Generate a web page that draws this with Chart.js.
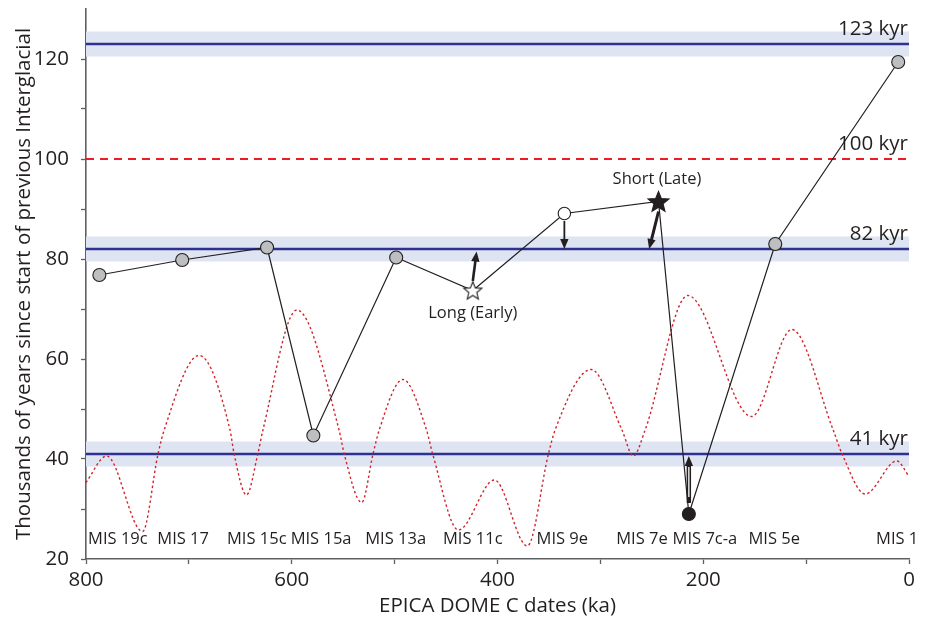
<!DOCTYPE html>
<html>
<head>
<meta charset="utf-8">
<script src="https://cdn.jsdelivr.net/npm/chart.js@4.4.1/dist/chart.umd.min.js"></script>
<style>
  html, body { margin: 0; padding: 0; background: #ffffff; }
  #wrap { width: 929px; height: 620px; position: relative; }
</style>
</head>
<body>
<div id="wrap"><canvas id="c" width="929" height="620"></canvas></div>
<script>
// ---------------- data ----------------
const mainAges   = [787, 706.5, 624, 579, 498.5, 424, 335, 243.5, 214, 130, 10.5];
const mainValues = [76.8, 79.8, 82.3, 44.7, 80.3, 73.7, 89.1, 91.5, 29.0, 83.0, 119.4];
const mainMarkers = ['grey','grey','grey','grey','grey','openStar','openCircle','blackStar','blackCircle','grey','grey'];

const curveAges   = [800, 780, 745, 730, 724, 690, 660, 656, 644, 633, 628, 595, 554, 549, 532, 521, 515, 492, 469, 463, 438, 403, 371, 350.5, 344, 309, 279, 268, 256.5, 215, 153, 114, 73.7, 65, 42.6, 11.8, 0];
const curveValues = [35.3, 40.6, 25.5, 41, 45.8, 60.7, 45.8, 41, 32.8, 41, 45.8, 69.8, 45.8, 41, 31.3, 41, 45.8, 55.9, 45.8, 41, 25.8, 35.8, 22.6, 41, 45.8, 57.9, 45.8, 40.6, 45.8, 72.7, 48.5, 65.9, 45.8, 41, 33.0, 39.6, 36.5];

const cycleValues = [123, 82, 41];
const cycleLabels = ['123 kyr', '82 kyr', '41 kyr'];
const bandHalfWidth = 2.5;
const refValue = 100;
const refLabel = '100 kyr';

const misLabels = ['MIS 19c','MIS 17','MIS 15c','MIS 15a','MIS 13a','MIS 11c','MIS 9e','MIS 7e','MIS 7c-a','MIS 5e','MIS 1'];
const misAges   = [769, 705.6, 634, 571.5, 499, 424, 337, 259.6, 198.4, 131, 11.5];
const misValue  = 24.0;

const arrowFromAge = [424, 335, 243.5, 214];
const arrowFromVal = [75.6, 87.6, 89.5, 31.2];
const arrowToAge   = [420.3, 335, 252.6, 214];
const arrowToVal   = [81.5, 82.0, 82.0, 40.6];

const noteLabels = ['Long (Early)', 'Short (Late)'];
const noteAges   = [424, 245];
const noteValues = [69.2, 95.9];

const xTicks = [800, 600, 400, 200, 0];
const yTicks = [20, 40, 60, 80, 100, 120];

// --------------- styles ---------------
const FONT = '"Open Sans", "Noto Sans", sans-serif';
const TXT = '#231f20';
const AXIS = '#5f6062';

function starCanvas(rOut, rIn, fill, stroke, lw) {
  const s = Math.ceil(rOut * 2 + lw * 2 + 2);
  const cv = document.createElement('canvas');
  cv.width = s; cv.height = s;
  const g = cv.getContext('2d');
  const cx = s / 2, cy = s / 2 + rOut * 0.08;
  g.beginPath();
  for (let i = 0; i < 10; i++) {
    const r = i % 2 === 0 ? rOut : rIn;
    const a = -Math.PI / 2 + i * Math.PI / 5;
    const x = cx + r * Math.cos(a), y = cy + r * Math.sin(a);
    if (i === 0) g.moveTo(x, y); else g.lineTo(x, y);
  }
  g.closePath();
  g.fillStyle = fill; g.fill();
  g.lineWidth = lw; g.strokeStyle = stroke; g.stroke();
  return cv;
}
const openStarImg  = starCanvas(9.5, 4.2, '#ffffff', TXT, 1.1);
const blackStarImg = starCanvas(11, 4.8, TXT, TXT, 1.1);

const markerStyle = {
  grey:        { style: 'circle', r: 6.5, bg: '#bcbec0', bd: TXT },
  openCircle:  { style: 'circle', r: 6.2, bg: '#ffffff', bd: TXT },
  blackCircle: { style: 'circle', r: 6.5, bg: TXT, bd: TXT },
  openStar:    { style: openStarImg, r: 10, bg: '#fff', bd: TXT },
  blackStar:   { style: blackStarImg, r: 11, bg: TXT, bd: TXT }
};

// --------------- plugin ---------------
const deco = {
  id: 'deco',
  beforeDatasetsDraw(chart) {
    const { ctx, chartArea: a, scales: { x, y } } = chart;
    ctx.save();
    cycleValues.forEach(v => {
      const y1 = y.getPixelForValue(v + bandHalfWidth);
      const y2 = y.getPixelForValue(v - bandHalfWidth);
      ctx.fillStyle = '#dee4f1';
      ctx.fillRect(a.left, y1, a.right - a.left, y2 - y1);
    });
    cycleValues.forEach(v => {
      const yy = y.getPixelForValue(v);
      ctx.strokeStyle = '#2e3192';
      ctx.lineWidth = 2.6;
      ctx.beginPath(); ctx.moveTo(a.left, yy); ctx.lineTo(a.right, yy); ctx.stroke();
    });
    ctx.font = '20.5px ' + FONT;
    ctx.fillStyle = TXT;
    ctx.textAlign = 'right';
    ctx.textBaseline = 'middle';
    cycleValues.forEach((v, i) => {
      ctx.fillText(cycleLabels[i], a.right - 1, y.getPixelForValue(v) - 15);
    });
    ctx.fillText(refLabel, a.right - 1, y.getPixelForValue(refValue) - 15);
    ctx.font = '16.5px ' + FONT;
    ctx.textAlign = 'center';
    misLabels.forEach((t, i) => {
      ctx.fillText(t, x.getPixelForValue(misAges[i]), y.getPixelForValue(misValue));
    });
    ctx.restore();
  },
  afterDatasetsDraw(chart) {
    const { ctx, scales: { x, y } } = chart;
    ctx.save();
    arrowFromAge.forEach((fa, i) => {
      const x1 = x.getPixelForValue(fa), y1 = y.getPixelForValue(arrowFromVal[i]);
      const x2 = x.getPixelForValue(arrowToAge[i]), y2 = y.getPixelForValue(arrowToVal[i]);
      const ang = Math.atan2(y2 - y1, x2 - x1);
      const hl = 10, hw = 4.2;
      const bx = x2 - hl * Math.cos(ang), by = y2 - hl * Math.sin(ang);
      ctx.strokeStyle = TXT; ctx.fillStyle = TXT;
      const lw = [2.6, 1.8, 3.0, 4.4][i];
      ctx.lineWidth = lw;
      ctx.beginPath(); ctx.moveTo(x1, y1); ctx.lineTo(bx + Math.cos(ang), by + Math.sin(ang)); ctx.stroke();
      if (i === 3) {
        ctx.strokeStyle = '#ffffff'; ctx.lineWidth = 1.3;
        ctx.beginPath(); ctx.moveTo(x1, y1 - 6); ctx.lineTo(bx, by + 1); ctx.stroke();
      }
      ctx.fillStyle = TXT;
      ctx.beginPath();
      ctx.moveTo(x2, y2);
      ctx.lineTo(bx + hw * Math.sin(ang), by - hw * Math.cos(ang));
      ctx.lineTo(bx - hw * Math.sin(ang), by + hw * Math.cos(ang));
      ctx.closePath(); ctx.fill();
    });
    ctx.font = '16.5px ' + FONT;
    ctx.fillStyle = TXT;
    ctx.textAlign = 'center';
    ctx.textBaseline = 'middle';
    noteLabels.forEach((t, i) => {
      ctx.fillText(t, x.getPixelForValue(noteAges[i]), y.getPixelForValue(noteValues[i]));
    });
    ctx.restore();
  }
};

// --------------- chart ---------------
const mainPoints  = mainAges.map((a, i) => ({ x: a, y: mainValues[i] }));
const curvePoints = curveAges.map((a, i) => ({ x: a, y: curveValues[i] }));
const refPoints   = [{ x: 800, y: refValue }, { x: 0, y: refValue }];

new Chart(document.getElementById('c'), {
  type: 'scatter',
  data: {
    datasets: [
      {
        data: mainPoints,
        showLine: true,
        borderColor: TXT,
        borderWidth: 1.2,
        pointStyle: mainMarkers.map(m => markerStyle[m].style),
        pointRadius: mainMarkers.map(m => markerStyle[m].r),
        pointBackgroundColor: mainMarkers.map(m => markerStyle[m].bg),
        pointBorderColor: mainMarkers.map(m => markerStyle[m].bd),
        pointBorderWidth: 1.1,
        order: 0
      },
      {
        data: curvePoints,
        showLine: true,
        borderColor: '#d2232a',
        borderWidth: 1.4,
        borderDash: [2.4, 2.6],
        pointRadius: 0,
        cubicInterpolationMode: 'monotone',
        order: 1
      },
      {
        data: refPoints,
        showLine: true,
        borderColor: '#ed1c24',
        borderWidth: 2.2,
        borderDash: [8, 6],
        pointRadius: 0,
        order: 2
      }
    ]
  },
  options: {
    responsive: false,
    animation: false,
    events: [],
    layout: { padding: { top: 9, right: 20, left: 0, bottom: 0 } },
    plugins: { legend: { display: false }, tooltip: { enabled: false } },
    scales: {
      x: {
        type: 'linear', reverse: true, min: 0, max: 800,
        afterFit(s) { s.height = 61; },
        border: { display: true, color: AXIS, width: 1.6 },
        grid: { display: true, drawOnChartArea: false, drawTicks: true, tickLength: 5, tickColor: AXIS, tickWidth: 1.3 },
        ticks: {
          stepSize: 100, autoSkip: false, maxRotation: 0, padding: 4,
          color: TXT, font: { size: 20.5, family: FONT },
          callback: v => xTicks.includes(v) ? String(v) : ''
        },
        title: { display: true, text: 'EPICA DOME C dates (ka)', color: TXT, font: { size: 20.5, family: FONT }, padding: { top: 0, bottom: 2 } }
      },
      y: {
        type: 'linear', min: 20, max: 130,
        afterBuildTicks(s) { s.ticks = s.ticks.filter(t => t.value <= 120); },
        afterFit(s) { s.width = 86; s.paddingTop = 0; s.paddingBottom = 0; },
        border: { display: true, color: AXIS, width: 1.6 },
        grid: { display: true, drawOnChartArea: false, drawTicks: true, tickLength: 5, tickWidth: 1.3, tickColor: AXIS },
        ticks: {
          stepSize: 10, autoSkip: false, padding: 12,
          color: TXT, font: { size: 20.5, family: FONT },
          callback: v => yTicks.includes(v) ? String(v) : ''
        },
        title: { display: true, text: 'Thousands of years since start of previous Interglacial', color: TXT, font: { size: 20.5, family: FONT }, padding: { top: 12, bottom: 0 } }
      }
    }
  },
  plugins: [deco]
});
</script>
</body>
</html>
